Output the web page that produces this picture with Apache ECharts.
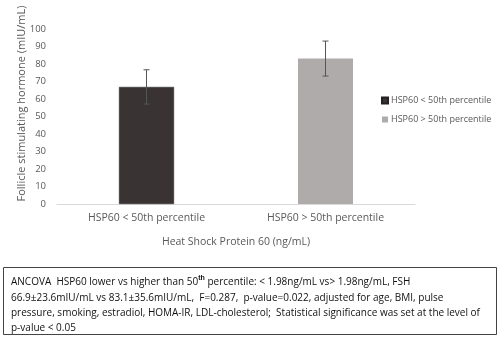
<!DOCTYPE html>
<html>
<head>
<meta charset="utf-8">
<script src="https://cdn.jsdelivr.net/npm/echarts@6/dist/echarts.min.js"></script>
<style>
html, body { margin: 0; padding: 0; background: #fff; }
#main { width: 498px; height: 337px; }
</style>
</head>
<body>
<div id="main"></div>
<script>
var categories = ['HSP60 < 50th percentile', 'HSP60 > 50th percentile'];
var seriesNames = ['HSP60 < 50th percentile', 'HSP60 > 50th percentile'];
var means = [66.9, 83.1];
var errors = [9.8, 10];
var colors = ['#3a3333', '#b0abab'];

var myChart = echarts.init(document.getElementById('main'));

var series = seriesNames.map(function (name, i) {
    var data = categories.map(function (c, j) { return j === i ? means[j] : '-'; });
    return {
        name: name,
        type: 'bar',
        stack: 'one',
        barWidth: 55,
        itemStyle: { color: colors[i], borderColor: '#222', borderWidth: i === 0 ? 0.5 : 0 },
        data: data
    };
});

// error bars
series.push({
    type: 'custom',
    silent: true,
    z: 10,
    renderItem: function (params, api) {
        var x = api.value(0);
        var lo = api.coord([x, api.value(1)]);
        var hi = api.coord([x, api.value(2)]);
        var w = 3;
        var st = { stroke: '#555', lineWidth: 1 };
        return {
            type: 'group',
            children: [
                { type: 'line', shape: { x1: hi[0], y1: hi[1], x2: lo[0], y2: lo[1] }, style: st },
                { type: 'line', shape: { x1: hi[0] - w, y1: hi[1], x2: hi[0] + w, y2: hi[1] }, style: st },
                { type: 'line', shape: { x1: lo[0] - w, y1: lo[1], x2: lo[0] + w, y2: lo[1] }, style: st }
            ]
        };
    },
    data: means.map(function (m, i) { return [i, m - errors[i], m + errors[i]]; })
});

var option = {
    animation: false,
    textStyle: { fontFamily: 'Open Sans' },
    grid: { left: 57, right: 83, top: 29, bottom: 133 },
    legend: {
        orient: 'vertical',
        left: 376,
        top: 91,
        itemWidth: 6,
        itemHeight: 6,
        itemGap: 10,
        icon: 'rect',
        textStyle: { fontSize: 9, color: '#595959', padding: [0, 0, 0, -2] },
        data: seriesNames
    },
    xAxis: {
        type: 'category',
        data: categories,
        name: 'Heat Shock Protein 60 (ng/mL)',
        nameLocation: 'middle',
        nameGap: 33,
        nameMoveOverlap: false,
        nameTextStyle: { fontSize: 10.5, color: '#595959' },
        axisLine: { lineStyle: { color: '#d9d9d9' } },
        axisTick: { show: false },
        axisLabel: { fontSize: 10.5, color: '#595959', margin: 9 }
    },
    yAxis: {
        type: 'value',
        min: 0,
        max: 100,
        interval: 10,
        name: 'Follicle stimulating hormone (mIU/mL)',
        nameLocation: 'middle',
        nameGap: 30,
        nameMoveOverlap: false,
        nameTextStyle: { fontSize: 11, color: '#595959', padding: [0, 0, 0, 26] },
        splitLine: { show: false },
        axisLine: { show: false },
        axisTick: { show: false },
        axisLabel: { fontSize: 9.5, color: '#595959', margin: 11 }
    },
    graphic: [
        {
            type: 'rect',
            shape: { x: 3.5, y: 267.5, width: 493, height: 67 },
            style: { fill: '#fff', stroke: '#444', lineWidth: 1 }
        },
        {
            type: 'text',
            left: 11,
            top: 275,
            style: {
                text: 'ANCOVA  HSP60 lower vs higher than 50{sup|th} percentile: < 1.98ng/mL vs> 1.98ng/mL, FSH\n' +
                      '66.9±23.6mIU/mL vs 83.1±35.6mIU/mL,  F=0.287,  p-value=0.022, adjusted for age, BMI, pulse\n' +
                      'pressure, smoking, estradiol, HOMA-IR, LDL-cholesterol;  Statistical significance was set at the level of\n' +
                      'p-value < 0.05',
                font: '10px "Open Sans"',
                fill: '#111',
                lineHeight: 15.3,
                rich: {
                    sup: { fontSize: 7, fontWeight: 'bold', verticalAlign: 'top', padding: [0, 0, 5, 0], lineHeight: 15.3 }
                }
            }
        }
    ],
    series: series
};

myChart.setOption(option);
</script>
</body>
</html>
